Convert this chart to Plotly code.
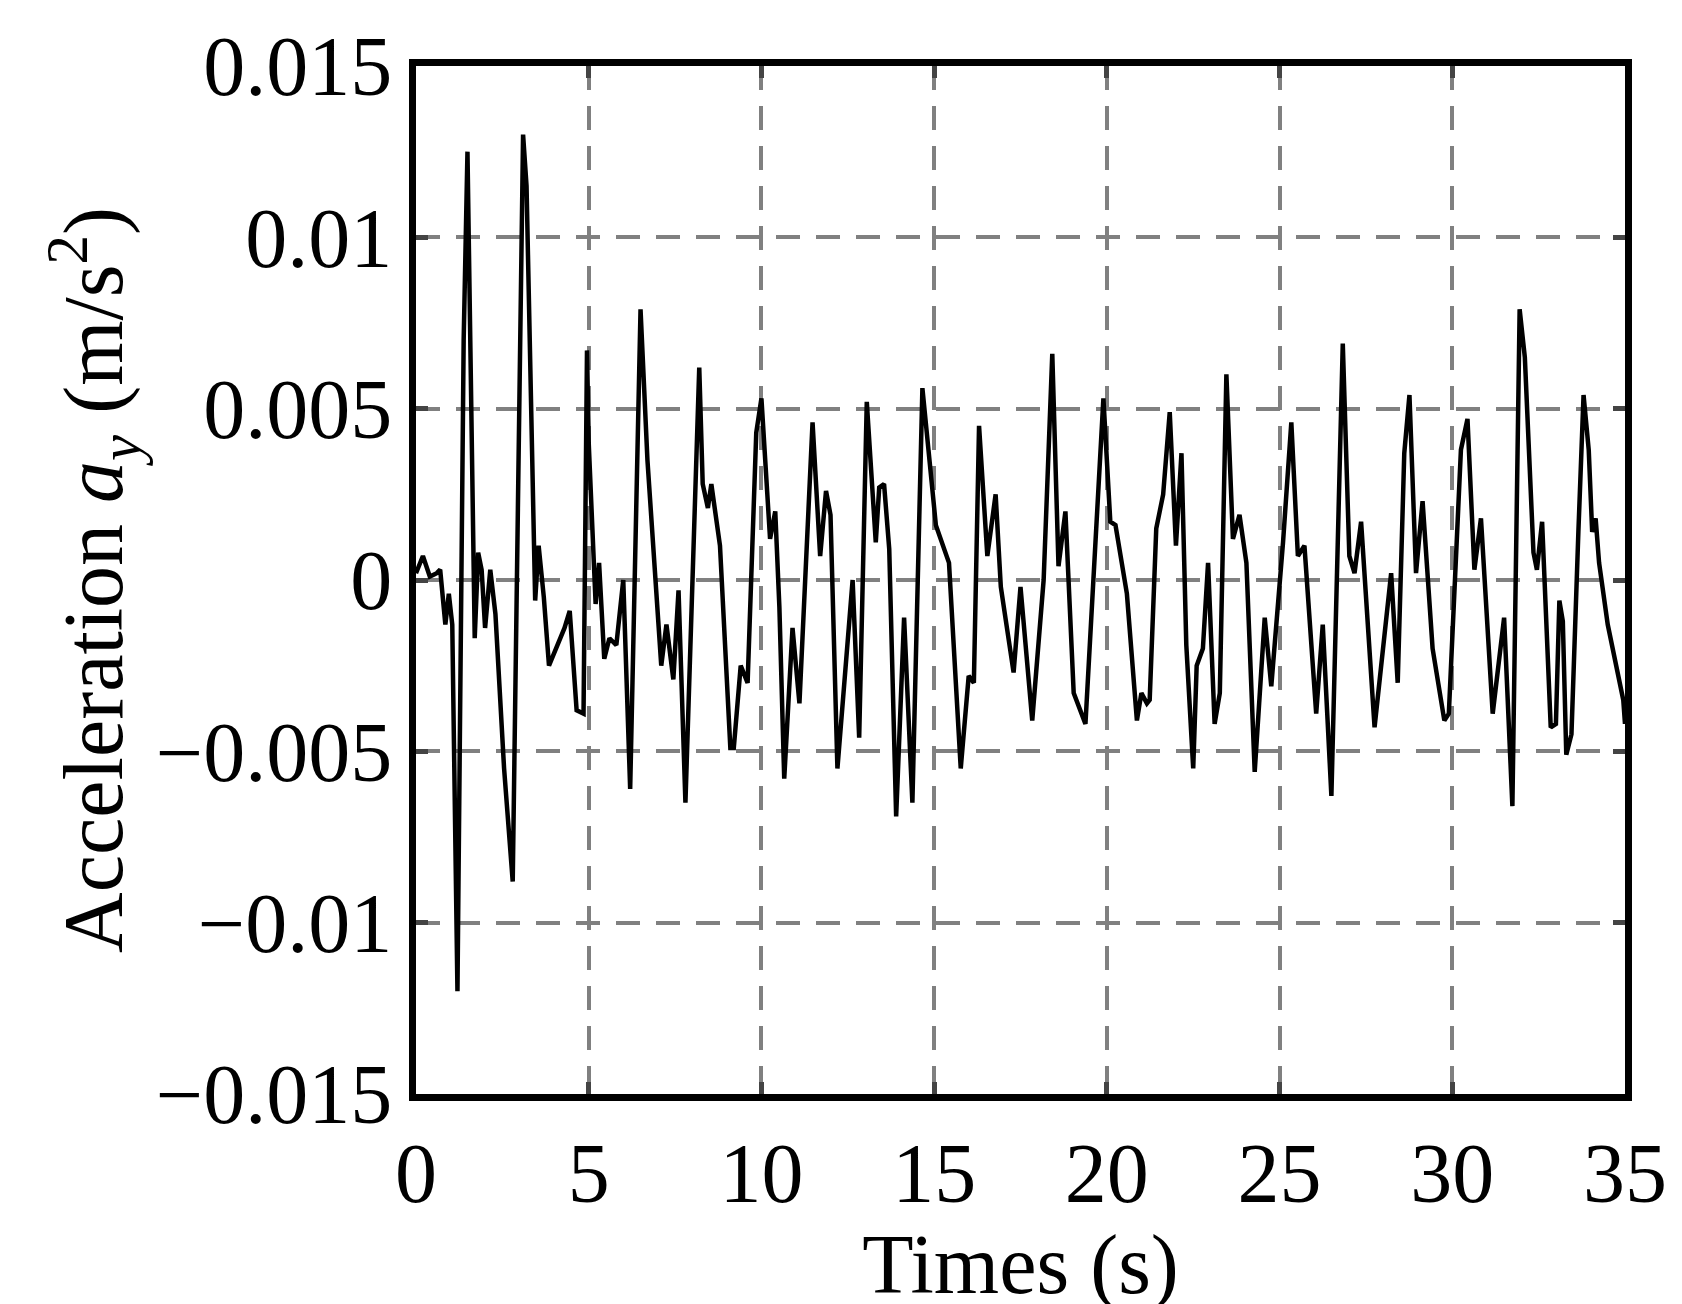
import plotly.graph_objects as go

t = [0,0.2,0.4,0.6,0.7,0.85,0.95,1.05,1.2,1.38,1.49,1.58,1.7,1.8,1.9,2.0,2.15,2.3,2.55,2.8,3.1,3.2,3.45,3.55,3.7,3.85,4.1,4.3,4.45,4.65,4.85,4.95,5.0,5.2,5.3,5.45,5.6,5.8,6.0,6.2,6.5,6.7,7.1,7.25,7.45,7.6,7.8,8.2,8.3,8.45,8.55,8.8,9.1,9.2,9.4,9.6,9.85,10.0,10.25,10.4,10.52,10.66,10.9,11.1,11.48,11.7,11.87,12.0,12.2,12.64,12.83,13.05,13.31,13.41,13.55,13.7,13.9,14.13,14.37,14.66,15.05,15.43,15.77,16.0,16.15,16.3,16.54,16.78,16.93,17.3,17.5,17.84,18.17,18.42,18.6,18.8,19.04,19.38,19.9,20.1,20.25,20.58,20.87,21.0,21.16,21.24,21.43,21.63,21.82,22.0,22.16,22.3,22.5,22.6,22.78,22.93,23.12,23.27,23.46,23.65,23.84,24.04,24.28,24.57,24.76,25.1,25.34,25.53,25.72,26.06,26.25,26.5,26.83,27.02,27.17,27.36,27.75,28.23,28.42,28.61,28.76,28.95,29.14,29.43,29.77,29.9,30.25,30.44,30.64,30.83,31.17,31.5,31.74,31.95,32.1,32.35,32.45,32.6,32.85,33.0,33.1,33.2,33.3,33.45,33.65,33.8,33.95,34.05,34.15,34.25,34.5,34.75,34.95,35.0]
a = [0.0002,0.0007,0.0001,0.0002,0.0003,-0.0013,-0.0004,-0.0013,-0.0120,0.0070,0.0125,0.0060,-0.0017,0.0008,0.0003,-0.0014,0.0003,-0.0010,-0.0055,-0.0088,0.0130,0.0115,-0.0006,0.0010,-0.0005,-0.0025,-0.0019,-0.0014,-0.0009,-0.0038,-0.0039,0.0067,0.0040,-0.0007,0.0005,-0.0023,-0.0017,-0.0019,0.0000,-0.0061,0.0079,0.0035,-0.0025,-0.0013,-0.0029,-0.0003,-0.0065,0.0062,0.0028,0.0021,0.0028,0.0010,-0.0049,-0.0049,-0.0025,-0.0030,0.0043,0.0053,0.0012,0.0020,-0.0008,-0.0058,-0.0014,-0.0036,0.0046,0.0007,0.0026,0.0019,-0.0055,0.0000,-0.0046,0.0052,0.0011,0.0027,0.0028,0.0009,-0.0069,-0.0011,-0.0065,0.0056,0.0016,0.0005,-0.0055,-0.0028,-0.0030,0.0045,0.0007,0.0025,-0.0002,-0.0027,-0.0002,-0.0041,0.0000,0.0066,0.0004,0.0020,-0.0033,-0.0042,0.0053,0.0017,0.0016,-0.0004,-0.0041,-0.0033,-0.0036,-0.0035,0.0015,0.0025,0.0049,0.0010,0.0037,-0.0019,-0.0055,-0.0025,-0.0020,0.0005,-0.0042,-0.0033,0.0060,0.0012,0.0019,0.0005,-0.0056,-0.0011,-0.0031,0.0011,0.0046,0.0007,0.0010,-0.0039,-0.0013,-0.0063,0.0069,0.0007,0.0002,0.0017,-0.0043,0.0002,-0.0030,0.0037,0.0054,0.0002,0.0023,-0.0020,-0.0041,-0.0039,0.0038,0.0047,0.0003,0.0018,-0.0039,-0.0011,-0.0066,0.0079,0.0065,0.0008,0.0003,0.0017,-0.0043,-0.0042,-0.0006,-0.0012,-0.0051,-0.0045,0.0014,0.0054,0.0038,0.0014,0.0018,0.0005,-0.0013,-0.0025,-0.0035,-0.0042]

ytickvals = [-0.015,-0.01,-0.005,0,0.005,0.01,0.015]
yticktext = ["\u22120.015","\u22120.01","\u22120.005","0","0.005","0.01","0.015"]
xtickvals = [0,5,10,15,20,25,30,35]

fig = go.Figure(go.Scatter(x=t, y=a, mode="lines", line=dict(color="black", width=4.5)))
font = dict(family="Liberation Serif", size=84, color="black")
fig.update_layout(
    width=1682, height=1304, paper_bgcolor="white", plot_bgcolor="white",
    margin=dict(l=408, r=65, t=50, b=218), showlegend=False, font=font,
)
common = dict(ticks="inside", ticklen=12, tickwidth=5, showline=True, linewidth=7, linecolor="black",
              mirror="ticks", showgrid=True, gridcolor="#808080", gridwidth=4, griddash="24px,16px",
              zeroline=False, tickfont=font)
fig.update_xaxes(range=[0,35], tickvals=xtickvals,
                 title=dict(text="Times (s)", font=font, standoff=0), **common)
fig.update_yaxes(range=[-0.015,0.015], tickvals=ytickvals, ticktext=yticktext,
                 title=dict(text="Acceleration <i>a<sub>y</sub></i> (m/s<sup>2</sup>)", font=font, standoff=8), **common)
fig.write_html("out.html")
